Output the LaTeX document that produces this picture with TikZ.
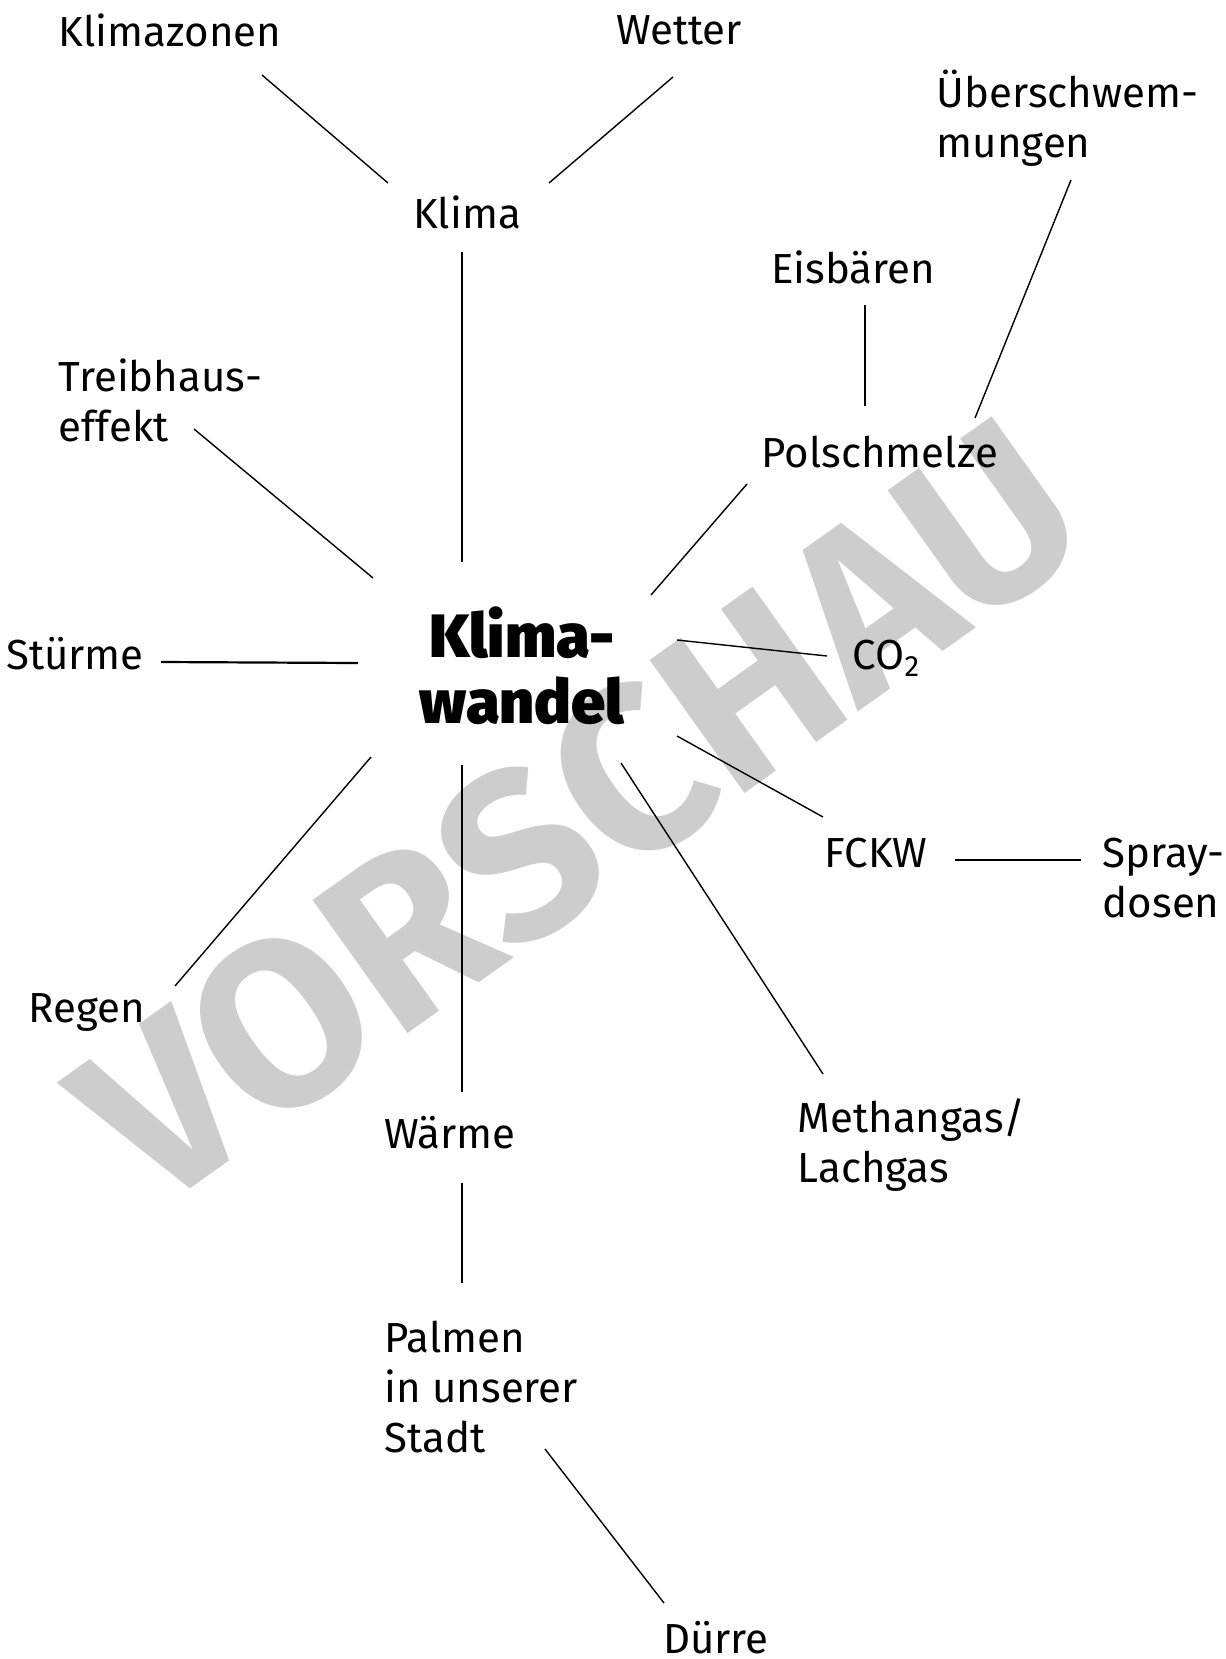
\documentclass[tikz,border=0pt]{standalone}
\usepackage{fontspec}
\setmainfont{Fira Sans}
\newfontfamily\heavyfont{Fira Sans Black}
\usepackage{tikz}
\definecolor{stampgray}{RGB}{205,205,205}
\newcommand{\branch}[4]{
\draw[conn] ([shift={#2}]#1) -- ([shift={#4}]#3);
}

\begin{document}
\begin{tikzpicture}[x=0.25pt, y=-0.25pt,
    word/.style={font=\fontsize{10.5}{12.5}\selectfont, inner sep=0pt, align=left},
    hub/.style={font=\fontsize{15.3}{16.5}\selectfont\heavyfont, inner sep=0pt, align=center},
    conn/.style={line width=0.35pt},
    thickconn/.style={line width=0.55pt}]
    \useasboundingbox (0,0) rectangle (1226,1659);
    % watermark
    \node[rotate=35.5, text=stampgray, font=\fontsize{59}{59}\selectfont\bfseries] (stamp) at (578,812) {VORSCHAU};

    % centre
    \node[hub] (wandel) at (522,666) {Klima-\\wandel};

    % upper part
    \node[word] (klima) at (467,212) {Klima};
    \node[word] (zonen) at (170,30) {Klimazonen};
    \node[word] (wetter) at (679,30) {Wetter};
    \node[word, anchor=west] (treib) at (58,400) {Treibhaus-\\effekt};
    \node[word] (pol) at (880,452) {Polschmelze};
    \node[word] (eis) at (853,267) {Eisbären};
    \node[word, anchor=west] (flut) at (936,118) {Überschwem-\\mungen};

    % middle
    \node[word] (sturm) at (75,654) {Stürme};
    \node[word] (co) at (887,658) {CO\textsubscript{2}};
    \node[word] (fckw) at (876,853) {FCKW};
    \node[word, anchor=west] (spray) at (1102,878) {Spray-\\dosen};

    % lower part
    \node[word] (regen) at (87,1012) {Regen};
    \node[word] (waerme) at (450,1133) {Wärme};
    \node[word, anchor=west] (methan) at (797,1145) {Methangas/\\Lachgas};
    \node[word, anchor=west] (palmen) at (384,1387) {Palmen\\in unserer\\Stadt};
    \node[word] (duerre) at (716,1638) {Dürre};

    % connectors
    \branch{zonen.center}{(92,45)}{klima.center}{(-79,-29)}
    \branch{wetter.center}{(-6,47)}{klima.center}{(82,-29)}
    \branch{klima.center}{(-5,40)}{wandel.center}{(-60,-104)}
    \branch{flut.west}{(135,62)}{pol.center}{(95,-34)}
    \branch{eis.center}{(12,38)}{pol.center}{(-15,-46)}
    \branch{treib.west}{(136,29)}{wandel.center}{(-149,-88)}
    \branch{pol.center}{(-133,32)}{wandel.center}{(129,-71)}
    \draw[thickconn] ([shift={(86,8)}]sturm.center) -- ([shift={(-164,-3)}]wandel.center);
    \branch{co.center}{(-60,-2)}{wandel.center}{(155,-26)}
    \branch{fckw.center}{(-53,-36)}{wandel.center}{(155,70)}
    \draw[thickconn] ([shift={(79,7)}]fckw.center) -- ([shift={(-21,-18)}]spray.west);
    \branch{regen.center}{(88,-26)}{wandel.center}{(-151,91)}
    \branch{waerme.center}{(12,-41)}{wandel.center}{(-60,99)}
    \branch{methan.west}{(26,-71)}{wandel.center}{(99,97)}
    \branch{waerme.center}{(12,50)}{palmen.west}{(78,-104)}
    \branch{palmen.west}{(161,62)}{duerre.center}{(-52,-35)}
\end{tikzpicture}
\end{document}
